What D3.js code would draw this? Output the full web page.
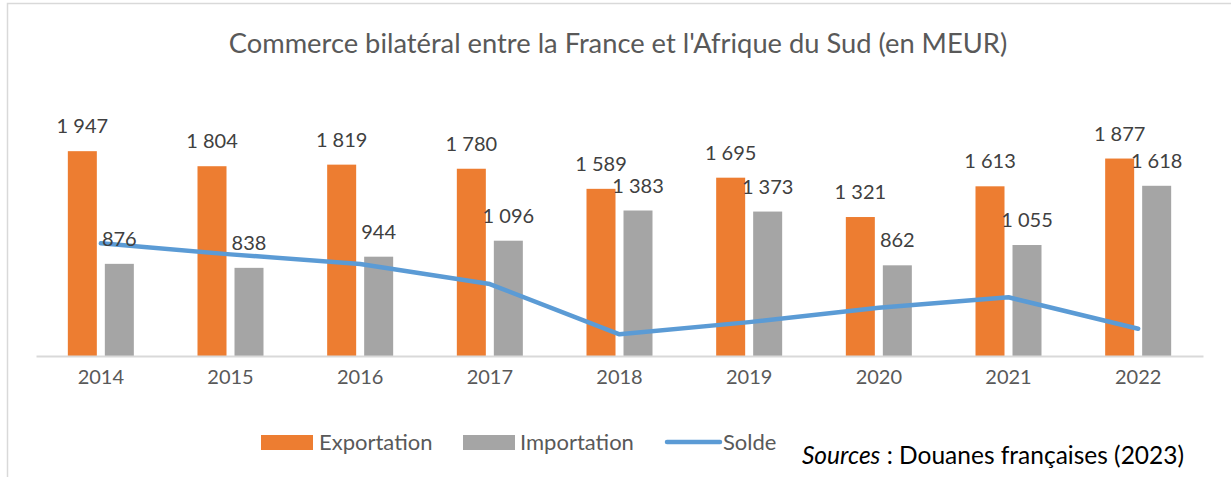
<!DOCTYPE html>
<html>
<head>
<meta charset="utf-8">
<script src="https://cdn.jsdelivr.net/npm/d3@7"></script>
<style>
  body { margin: 0; background: #fff; }
  text { font-family: Lato, "Open Sans", sans-serif; }
</style>
</head>
<body>
<div id="chart"></div>
<script>
const years = ["2014", "2015", "2016", "2017", "2018", "2019", "2020", "2021", "2022"];
const exportation = [1947, 1804, 1819, 1780, 1589, 1695, 1321, 1613, 1877];
const importation = [876, 838, 944, 1096, 1383, 1373, 862, 1055, 1618];
const solde = [1071, 966, 875, 684, 206, 322, 459, 558, 259];

const title = "Commerce bilatéral entre la France et l'Afrique du Sud (en MEUR)";
const legendLabels = ["Exportation", "Importation", "Solde"];

const width = 1231, height = 477;
const colors = {exp: "#ED7D31", imp: "#A5A5A5", solde: "#5B9BD5"};

const svg = d3.select("#chart")
    .append("svg")
    .attr("width", width)
    .attr("height", height);

svg.append("rect")
    .attr("width", width)
    .attr("height", height)
    .attr("fill", "#fff");

// chart area border (only left and top visible in the crop)
svg.append("rect")
    .attr("x", 7.5)
    .attr("y", 3.5)
    .attr("width", 1240)
    .attr("height", 500)
    .attr("fill", "none")
    .attr("stroke", "#d9d9d9")
    .attr("stroke-width", 1.5);

const xScale = d3.scaleBand()
    .domain(years)
    .range([36, 1203]);

const yScale = d3.scaleLinear()
    .domain([0, 2500])
    .range([356, 93]);

const barW = 29;
const cx = y => xScale(y) + xScale.bandwidth() / 2;

// title
svg.append("text")
    .attr("x", 618)
    .attr("y", 53)
    .attr("text-anchor", "middle")
    .attr("fill", "#595959")
    .attr("font-size", 27.3)
    .text(title);

// bars
svg.selectAll(".bar-exp")
    .data(years)
    .join("rect")
    .attr("class", "bar-exp")
    .attr("x", (d, i) => cx(d) - 18.5 - barW / 2)
    .attr("y", (d, i) => yScale(exportation[i]))
    .attr("width", barW)
    .attr("height", (d, i) => yScale(0) - yScale(exportation[i]))
    .attr("fill", colors.exp);

svg.selectAll(".bar-imp")
    .data(years)
    .join("rect")
    .attr("class", "bar-imp")
    .attr("x", (d, i) => cx(d) + 18.5 - barW / 2)
    .attr("y", (d, i) => yScale(importation[i]))
    .attr("width", barW)
    .attr("height", (d, i) => yScale(0) - yScale(importation[i]))
    .attr("fill", colors.imp);

// x axis
const xAxis = d3.axisBottom(xScale).tickSize(0).tickPadding(14);
const gx = svg.append("g")
    .attr("transform", `translate(0,${yScale(0)})`)
    .call(xAxis);
gx.select(".domain").attr("stroke", "#d9d9d9").attr("stroke-width", 2);
gx.selectAll("text")
    .attr("font-family", "Lato, sans-serif")
    .attr("font-size", 20)
    .attr("fill", "#595959");

// solde line
const line = d3.line()
    .x((d, i) => cx(years[i]))
    .y(d => yScale(d));

svg.append("path")
    .datum(solde)
    .attr("fill", "none")
    .attr("stroke", colors.solde)
    .attr("stroke-width", 4.5)
    .attr("stroke-linecap", "round")
    .attr("stroke-linejoin", "round")
    .attr("d", line);

// data labels
const fmt = v => d3.format(",")(v).replace(/,/g, " ");

svg.selectAll(".lbl-exp")
    .data(years)
    .join("text")
    .attr("class", "lbl-exp")
    .attr("x", d => cx(d) - 18.5)
    .attr("y", (d, i) => yScale(exportation[i]) - 18)
    .attr("text-anchor", "middle")
    .attr("font-size", 20)
    .attr("fill", "#404040")
    .text((d, i) => fmt(exportation[i]));

svg.selectAll(".lbl-imp")
    .data(years)
    .join("text")
    .attr("class", "lbl-imp")
    .attr("x", d => cx(d) + 18.5)
    .attr("y", (d, i) => yScale(importation[i]) - 18)
    .attr("text-anchor", "middle")
    .attr("font-size", 20)
    .attr("fill", "#404040")
    .text((d, i) => fmt(importation[i]));

// legend
const legend = svg.append("g").attr("font-size", 22).attr("fill", "#595959");

legend.append("rect")
    .attr("x", 261).attr("y", 435).attr("width", 52).attr("height", 15)
    .attr("fill", colors.exp);
legend.append("text")
    .attr("x", 319).attr("y", 450)
    .text(legendLabels[0]);

legend.append("rect")
    .attr("x", 463).attr("y", 435).attr("width", 52).attr("height", 15)
    .attr("fill", colors.imp);
legend.append("text")
    .attr("x", 520).attr("y", 450)
    .text(legendLabels[1]);

legend.append("line")
    .attr("x1", 667).attr("x2", 720).attr("y1", 442).attr("y2", 442)
    .attr("stroke", colors.solde)
    .attr("stroke-width", 4.5)
    .attr("stroke-linecap", "round");
legend.append("text")
    .attr("x", 723).attr("y", 450)
    .text(legendLabels[2]);

// source note
const src = svg.append("text")
    .attr("x", 802)
    .attr("y", 464)
    .attr("font-size", 24.5)
    .attr("fill", "#000");
src.append("tspan").attr("font-style", "italic").text("Sources");
src.append("tspan").text(" : Douanes françaises (2023)");
</script>
</body>
</html>
